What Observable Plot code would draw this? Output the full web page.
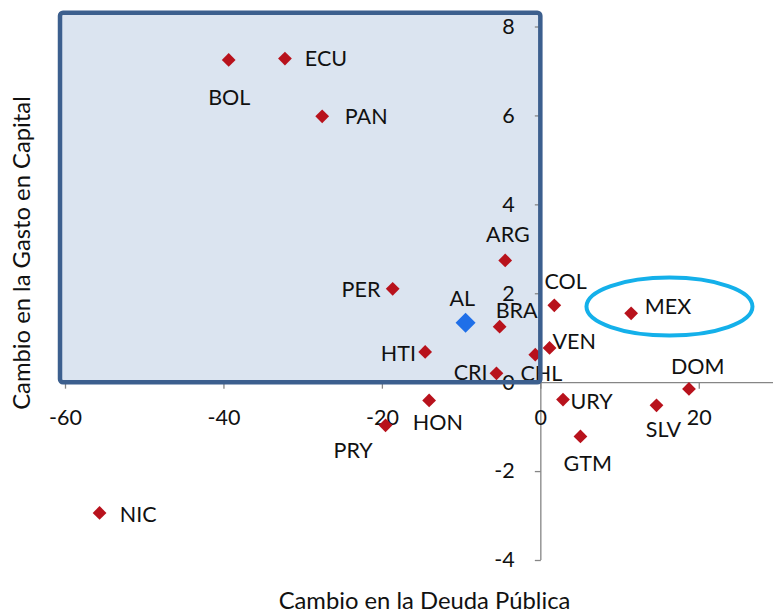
<!DOCTYPE html>
<html>
<head>
<meta charset="utf-8">
<script src="https://cdn.jsdelivr.net/npm/d3@7"></script>
<script src="https://cdn.jsdelivr.net/npm/@observablehq/plot@0.6"></script>
<style>
  html, body { margin: 0; padding: 0; background: #fff; }
  #chart svg { display: block; overflow: hidden; }
</style>
</head>
<body>
<div id="chart"></div>
<script>
// ---- data ----
const countries = ["BOL","ECU","PAN","ARG","PER","BRA","COL","MEX","VEN","CHL","HTI","CRI","DOM","URY","SLV","GTM","HON","PRY","NIC"];
const deudaChange = [-39.4,-32.3,-27.6,-4.5,-18.7,-5.2,1.7,11.4,1.1,-0.7,-14.6,-5.6,18.7,2.8,14.6,5.0,-14.1,-19.6,-55.7];
const gastoChange = [7.26,7.29,5.99,2.75,2.11,1.26,1.74,1.56,0.78,0.63,0.69,0.21,-0.14,-0.38,-0.51,-1.21,-0.40,-0.96,-2.93];
const regionName = ["AL"];
const regionDeuda = [-9.5];
const regionGasto = [1.35];
const xTicks = [-60, -40, -20, 0, 20];
const yTicks = [-4, -2, 0, 2, 4, 6, 8];
const xTitle = "Cambio en la Deuda Pública";
const yTitle = "Cambio en la Gasto en Capital";

// ---- layout / style (pixel offsets of labels relative to markers) ----
const labelDx = [0.6,41,44,2.7,-31.7,17,11.3,36.8,24.7,6,-26.8,-25.8,8.7,28.5,7,7.3,8.7,-32.4,38.7];
const labelDy = [38.7,0.3,1,-25,1.7,-15.3,-23.3,-6.7,-6,19.3,2.3,-0.7,-21.6,2.7,25,28,22.7,25.7,2];
const regionLabelDx = [-3.3];
const regionLabelDy = [-24];
const highlightBox = [{x1: -60.63, x2: 0, y1: 0, y2: 8.31}];
const highlightEllipse = {cx: 16.3, cy: 1.70, rx: 83, ry: 29};

const points = countries.map((c, i) => ({name: c, x: deudaChange[i], y: gastoChange[i], dx: labelDx[i], dy: labelDy[i]}));
const region = regionName.map((c, i) => ({name: c, x: regionDeuda[i], y: regionGasto[i], dx: regionLabelDx[i], dy: regionLabelDy[i]}));

const FONT = "Lato, 'Open Sans', sans-serif";
const FS = 21.5;
const TFS = 23.8;
const AXIS = "#868686";
const RED = "#b8121c";
const BLUE = "#1f6fe8";

const tickDown = {draw(ctx) { ctx.moveTo(0, 0); ctx.lineTo(0, 6); }};
const tickLeft = {draw(ctx) { ctx.moveTo(0, 0); ctx.lineTo(-6, 0); }};

const xDomain = [-60, 30], xRange = [65, 778];
const yDomain = [-4, 8], yRange = [560, 26.5];

function labels(data) {
  return data.map(d => Plot.text([d], {x: "x", y: "y", text: "name", dx: d.dx, dy: d.dy,
    fontSize: FS, fontFamily: FONT, fill: "#111", textAnchor: "middle"}));
}

const ellipseMark = (index, scales) => {
  const sx = scales && scales.x ? scales.x : d3.scaleLinear(xDomain, xRange);
  const sy = scales && scales.y ? scales.y : d3.scaleLinear(yDomain, yRange);
  return d3.create("svg:ellipse")
    .attr("cx", sx(highlightEllipse.cx))
    .attr("cy", sy(highlightEllipse.cy))
    .attr("rx", highlightEllipse.rx)
    .attr("ry", highlightEllipse.ry)
    .attr("fill", "none")
    .attr("stroke", "#14b0ea")
    .attr("stroke-width", 4)
    .node();
};

const plot = Plot.plot({
  width: 773,
  height: 613,
  marginTop: 0, marginRight: 0, marginBottom: 0, marginLeft: 0,
  style: {fontFamily: FONT, background: "#fff", overflow: "hidden"},
  x: {domain: xDomain, range: xRange, axis: null},
  y: {domain: yDomain, range: yRange, axis: null},
  marks: [
    Plot.rect(highlightBox, {x1: "x1", x2: "x2", y1: "y1", y2: "y2", fill: "#dbe4f0"}),
    Plot.ruleY([0], {x1: xDomain[0], x2: xDomain[1], stroke: AXIS, strokeWidth: 1.3}),
    Plot.ruleX([0], {y1: yDomain[0], y2: yDomain[1], stroke: AXIS, strokeWidth: 1.3}),
    Plot.dot(xTicks, {x: d => d, y: 0, symbol: tickDown, stroke: AXIS, fill: "none", strokeWidth: 1.3}),
    Plot.dot(yTicks, {x: 0, y: d => d, symbol: tickLeft, stroke: AXIS, fill: "none", strokeWidth: 1.3}),
    Plot.text(xTicks, {x: d => d, y: 0, dy: 35, text: d => String(d), fontSize: FS, fontFamily: FONT, fill: "#111"}),
    Plot.text(yTicks, {x: 0, y: d => d, dx: -26, text: d => String(d), textAnchor: "end", fontSize: FS, fontFamily: FONT, fill: "#111"}),
    Plot.dot(points, {x: "x", y: "y", symbol: "diamond2", r: 6.2, fill: RED, stroke: null}),
    Plot.dot(region, {x: "x", y: "y", symbol: "diamond2", r: 9, fill: BLUE, stroke: null}),
    ...labels(points),
    ...labels(region),
    Plot.rect(highlightBox, {x1: "x1", x2: "x2", y1: "y1", y2: "y2", fill: "none", stroke: "#3c5f8e", strokeWidth: 4.5, rx: 3}),
    ellipseMark
  ]
});

document.getElementById("chart").appendChild(plot);

// axis titles positioned as in the reference
const svg = d3.select(plot);
svg.append("text")
  .attr("x", 424.5).attr("y", 600)
  .attr("text-anchor", "middle").attr("dominant-baseline", "central")
  .attr("font-family", FONT).attr("font-size", TFS).attr("fill", "#111")
  .text(xTitle);
svg.append("text")
  .attr("transform", "translate(21,253) rotate(-90)")
  .attr("text-anchor", "middle").attr("dominant-baseline", "central")
  .attr("font-family", FONT).attr("font-size", TFS).attr("fill", "#111")
  .text(yTitle);
</script>
</body>
</html>
